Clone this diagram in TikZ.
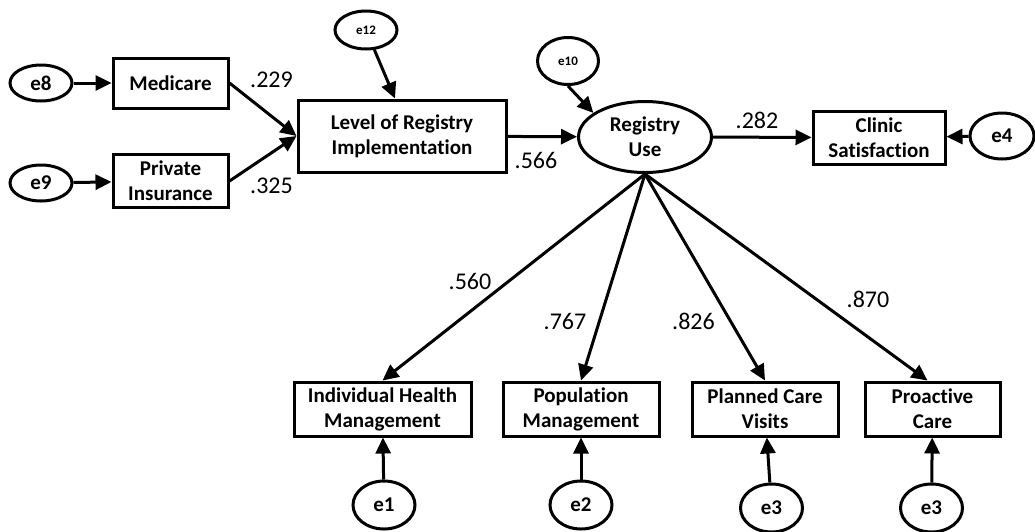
\documentclass[tikz,border=0pt]{standalone}
\usepackage{fontspec}
\setmainfont{Carlito}[Ligatures=NoCommon]
\usetikzlibrary{positioning,shapes.geometric,arrows.meta}

\begin{document}
\begin{tikzpicture}[x=1pt,y=-1pt,line width=3pt,
  >={Triangle[length=16pt,width=15pt]},
  every edge/.style={draw,->},
  box/.style={draw,rectangle,align=center,inner sep=0pt,font=\fontsize{21}{25}\selectfont\bfseries},
  err/.style={draw,ellipse,align=center,inner sep=0pt,minimum width=62pt,minimum height=48pt,font=\fontsize{21}{25}\selectfont\bfseries},
  coef/.style={anchor=base,inner sep=0pt,font=\fontsize{24}{28}\selectfont}]
\useasboundingbox (0,0) rectangle (1035,531);

\node[err,minimum height=36pt] (e8) at (41,83) {e8};
\node[err,minimum height=36pt] (e9) at (41,183) {e9};
\node[box,minimum width=115pt,minimum height=50pt] (med) at (170.5,83) {Medicare};
\node[box,minimum width=115pt,minimum height=53pt] (pri) at (170.5,181) {Private\\Insurance};
\node[box,minimum width=208pt,minimum height=72pt] (lri) at (402,136) {Level of Registry\\Implementation};
\node[err,minimum height=38pt,font=\fontsize{13}{15}\selectfont\bfseries] (e12) at (366,30) {e12};
\node[err,minimum width=61pt,minimum height=47pt,font=\fontsize{13}{15}\selectfont\bfseries] (e10) at (568,61) {e10};
\node[err,minimum width=133pt,minimum height=71pt] (ru) at (645,137) {Registry\\Use};
\node[box,minimum width=132pt,minimum height=53pt] (cli) at (879,137.5) {Clinic\\Satisfaction};
\node[err,minimum width=64pt,minimum height=46pt] (e4) at (1002,136) {e4};

\node[box,minimum width=177pt,minimum height=54pt] (ihm) at (382.5,409) {Individual Health\\Management};
\node[box,minimum width=156pt,minimum height=54pt] (pm) at (581,409) {Population\\Management};
\node[box,minimum width=146pt,minimum height=54pt] (pcv) at (765,409) {Planned Care\\Visits};
\node[box,minimum width=135pt,minimum height=54pt] (pc) at (932.5,409) {Proactive\\Care};
\node[err] (e1) at (384,505) {e1};
\node[err] (e2) at (581,505) {e2};
\node[err] (e3a) at (771.5,508) {e3};
\node[err] (e3b) at (931.5,508) {e3};

\node[coef] (c229) at (271.5,87) {.229};
\node[coef] (c325) at (271.5,193) {.325};
\node[coef] (c566) at (536,168) {.566};
\node[coef] (c282) at (757,128) {.282};
\node[coef] (c560) at (470,289) {.560};
\node[coef] (c767) at (565,329) {.767};
\node[coef] (c826) at (693.5,329) {.826};
\node[coef] (c870) at (868,307) {.870};

\draw (e8) edge (med);
\draw (e9) edge (pri);
\draw (med.east) edge (lri.west);
\draw (pri.east) edge (lri.west);
\draw (e12) edge ([xshift=-7pt]lri.north);
\draw (lri) edge (ru);
\draw (e10.south) edge (ru.155);
\draw (ru) edge (cli);
\draw (e4) edge (cli);
\draw (ru.south) edge (ihm.north);
\draw (ru.south) edge (pm.north);
\draw (ru.south) edge (pcv.north);
\draw (ru.south) edge ([xshift=-5pt]pc.north);
\draw (e1) edge (ihm);
\draw (e2) edge (pm);
\draw (e3a) edge (pcv);
\draw (e3b) edge (pc);
\end{tikzpicture}
\end{document}
